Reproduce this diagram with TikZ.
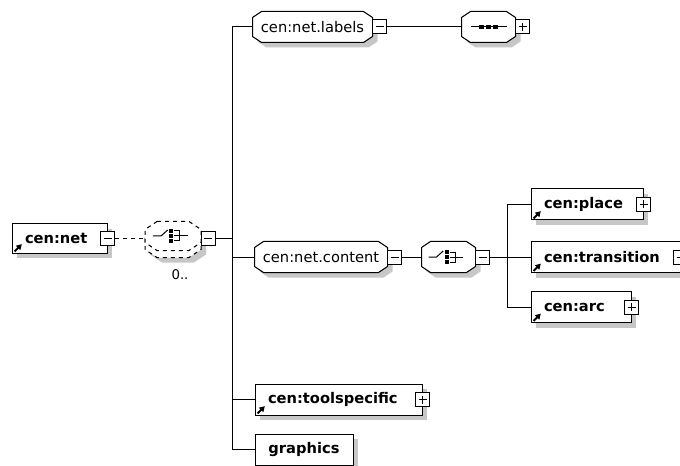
\documentclass[tikz,border=0pt]{standalone}
\usepackage{fontspec}
\setmainfont{DejaVu Sans}
\usetikzlibrary{shadows,arrows.meta,positioning,backgrounds}

\tikzset{
  shade box/.style={drop shadow={shadow xshift=3.75pt,shadow yshift=-3.75pt,opacity=1,fill=black!22}},
  elem/.style={draw,fill=white,line width=0.75pt,minimum height=23.25pt,inner sep=0pt,shade box},
  grp/.style={rectangle,inner sep=0pt,minimum height=22.5pt,font=\fontsize{11}{13}\selectfont},
  grp shadow/.style={fill=black!22,transform canvas={shift={(3.75pt,-3.75pt)}}},
  grp line/.style={draw,fill=white,line width=0.75pt},
  pm/.style={draw,fill=white,line width=0.75pt,minimum size=10.5pt,inner sep=0pt},
  etext/.style={anchor=west,inner sep=0pt,font=\fontsize{11}{13}\selectfont\bfseries},
  icon/.style={line width=1.5pt,-{Triangle[length=4pt,width=4.5pt]}},
}
% octagon round a node: name, corner cut x, corner cut y
\newcommand\octpath[3]{([xshift=#2]#1.north west) -- ([xshift=-#2]#1.north east)
  -- ([yshift=-#3]#1.north east) -- ([yshift=#3]#1.south east)
  -- ([xshift=-#2]#1.south east) -- ([xshift=#2]#1.south west)
  -- ([yshift=#3]#1.south west) -- ([yshift=-#3]#1.north west) -- cycle}
\newcommand\minusbox[2]{\node[pm] (#1) at (#2) {};
  \draw ([xshift=-3pt]#1.center) -- ([xshift=3pt]#1.center);}
\newcommand\plusbox[2]{\node[pm] (#1) at (#2) {};
  \draw ([xshift=-3pt]#1.center) -- ([xshift=3pt]#1.center);
  \draw ([yshift=-3pt]#1.center) -- ([yshift=3pt]#1.center);}
\newcommand\choicesym[1]{%
  \draw ([xshift=-15pt]#1.center) -- ([xshift=-9pt]#1.center) -- ([xshift=-4pt,yshift=4.5pt]#1.center);
  \foreach \dy in {3.75pt,0pt,-3.75pt}
    \fill ([xshift=-1.5pt,yshift=\dy]#1.center) ++(-1.5pt,-1.5pt) rectangle ++(3pt,3pt);
  \draw ([xshift=1pt,yshift=3.75pt]#1.center) -| ([xshift=5pt,yshift=-3.75pt]#1.center) -- ([xshift=1pt,yshift=-3.75pt]#1.center);
  \draw ([xshift=1pt]#1.center) -- ([xshift=11pt]#1.center);}
\newcommand\seqsym[1]{%
  \draw ([xshift=-13.5pt]#1.center) -- ([xshift=13.5pt]#1.center);
  \foreach \dx in {-5.25pt,0pt,5.25pt}
    \fill ([xshift=\dx]#1.center) ++(-1.6pt,-1.6pt) rectangle ++(3.2pt,3.2pt);}

\begin{document}
\begin{tikzpicture}[x=0.75pt,y=-0.75pt,line width=0.75pt]
\useasboundingbox (0,0) rectangle (680,466);
\clip (0,0) rectangle (680,466);

% root element
\node[elem,minimum width=71.25pt,minimum height=21.75pt] (net) at (59.5,238.5) {};
\node[etext] (nett) at ([xshift=9.75pt]net.west) {cen:net};
\draw[icon] ([xshift=2.25pt,yshift=1.5pt]net.south west) -- ++(5.5pt,5.5pt);
\minusbox{netm}{net.east}

% optional choice, 0..unbounded
\node[grp,minimum width=41.25pt,minimum height=21pt] (chb) at (173,243) {};
\node[grp,minimum width=41.25pt,minimum height=21pt] (ch) at (173,236) {};
\choicesym{ch}
\minusbox{chm}{[xshift=5.25pt]ch.east |- netm.center}
\node[inner sep=0pt,font=\fontsize{10}{12}\selectfont] (mult) at (180,275) {0..};
\draw[dashed] (netm.east) -- (netm.east -| ch.west);

% first level
\coordinate (tk) at (232,239);
\draw (chm.east) -- (chm.east -| tk);

\node[grp,minimum width=89.25pt] (labels) at (312.5,27) {cen:net.labels};
\minusbox{labelsm}{[xshift=5.25pt]labels.east}
\node[grp,minimum width=39.75pt] (seqd) at (488.5,27) {};
\seqsym{seqd}
\plusbox{seqdp}{[xshift=5.25pt]seqd.east}
\draw (labelsm.east) -- (labelsm.east -| seqd.west);

\node[grp,minimum width=99pt] (content) at (321,257) {cen:net.content};
\minusbox{contentm}{[xshift=5.25pt]content.east}
\node[grp,minimum width=39.75pt] (choice) at (448.5,257) {};
\choicesym{choice}
\minusbox{choicem}{[xshift=5.25pt]choice.east}
\draw (contentm.east) -- (contentm.east -| choice.west);

\node[elem,minimum width=125.25pt] (tool) at (338.5,399.5) {};
\node[etext] (toolt) at ([xshift=9.75pt]tool.west) {cen:toolspecific};
\draw[icon] ([xshift=2.25pt,yshift=1.5pt]tool.south west) -- ++(5.5pt,5.5pt);
\plusbox{toolp}{tool.east}

\node[elem,minimum width=73.5pt,font=\fontsize{11}{13}\selectfont\bfseries] (graphics) at (304,449.5) {graphics};

\draw (labels.west) -| (tk);
\draw (graphics.west) -| (tk);
\draw (content.west) -- (content.west -| tk);
\draw (tool.west) -- (tool.west -| tk);

% content of the net
\coordinate (tk2) at (507,257);
\draw (choicem.east) -- (choicem.east -| tk2);

\node[elem,minimum width=84pt] (place) at (587,204.5) {};
\node[etext] (placet) at ([xshift=9.75pt]place.west) {cen:place};
\draw[icon] ([xshift=2.25pt,yshift=1.5pt]place.south west) -- ++(5.5pt,5.5pt);
\plusbox{placep}{place.east}

\node[elem,minimum width=111.75pt] (trans) at (605.5,257) {};
\node[etext] (transt) at ([xshift=9.75pt]trans.west) {cen:transition};
\draw[icon] ([xshift=2.25pt,yshift=1.5pt]trans.south west) -- ++(5.5pt,5.5pt);
\plusbox{transp}{trans.east}

\node[elem,minimum width=75pt] (arc) at (581,307) {};
\node[etext] (arct) at ([xshift=9.75pt]arc.west) {cen:arc};
\draw[icon] ([xshift=2.25pt,yshift=1.5pt]arc.south west) -- ++(5.5pt,5.5pt);
\plusbox{arcp}{arc.east}

\draw (place.west) -| (tk2);
\draw (arc.west) -| (tk2);
\draw (trans.west) -- (trans.west -| tk2);

% octagon outlines behind the group nodes
\begin{pgfonlayer}{background}
  \foreach \g in {labels,seqd,content,choice} {
    \fill[grp shadow] \octpath{\g}{6.75pt}{4.5pt};
    \path[grp line] \octpath{\g}{6.75pt}{4.5pt};
  }
  \fill[grp shadow] \octpath{chb}{9pt}{6pt};
  \path[grp line,dashed] \octpath{chb}{9pt}{6pt};
  \path[grp line,dashed] \octpath{ch}{9pt}{6pt};
\end{pgfonlayer}
\end{tikzpicture}
\end{document}
